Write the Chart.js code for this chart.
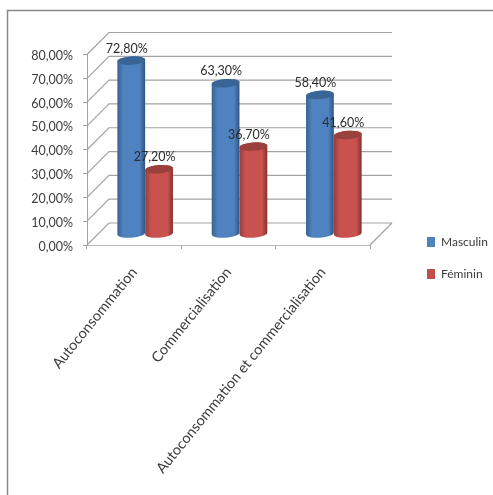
<!DOCTYPE html>
<html>
<head>
<meta charset="utf-8">
<title>Masculin / Féminin</title>
<script src="https://cdn.jsdelivr.net/npm/chart.js@4"></script>
<style>
  html, body { margin: 0; padding: 0; background: #fff; overflow: hidden; }
  canvas { display: block; }
</style>
</head>
<body>
<canvas id="myChart" width="493" height="495"></canvas>
<script>
var categories = ['Autoconsommation', 'Commercialisation', 'Autoconsommation et commercialisation'];
var masculin = [72.8, 63.3, 58.4];
var feminin = [27.2, 36.7, 41.6];
var yTickLabels = ['0,00%', '10,00%', '20,00%', '30,00%', '40,00%', '50,00%', '60,00%', '70,00%', '80,00%'];

var FONT = 'Lato, "Open Sans", sans-serif';
var DEPTH = 22;      // profondeur du plancher
var SHIFT = 11;      // les cylindres sont au milieu du plancher
var GRID = '#a3a3a3';

// tons du cylindre : bord gauche, centre, bord droit, dessus
var tones = [
  ['#38628f', '#4f82c0', '#2f5580', '#386595'],
  ['#93403d', '#c9524f', '#86302e', '#9a403d']
];

function pct(v){
  return v.toFixed(2).replace('.', ',') + '%';
}

// cadre gris, coupé par le bord de la page
var framePlugin = {
  id: 'frame',
  beforeDraw: function(chart){
    var ctx = chart.ctx;
    ctx.save();
    ctx.strokeStyle = '#8a8a8a';
    ctx.lineWidth = 1.5;
    ctx.strokeRect(7.5, 10.5, 600, 600);
    ctx.restore();
  }
};

// place la légende à droite sans toucher à la zone du graphique
var legendPlugin = {
  id: 'legendPlace',
  afterLayout: function(chart){
    var l = chart.legend;
    var w = l.right - l.left, h = l.bottom - l.top;
    l.left = 407;
    l.right = l.left + w;
    l.top = 216;
    l.bottom = l.top + h;
  }
};

// parois et plancher en perspective, à partir de l'échelle Y
var wallPlugin = {
  id: 'walls',
  beforeDatasetsDraw: function(chart){
    var ctx = chart.ctx, y = chart.scales.y, a = chart.chartArea;
    ctx.save();
    ctx.strokeStyle = GRID;
    ctx.lineWidth = 1.2;
    y.ticks.forEach(function(t){
      var py = y.getPixelForValue(t.value);
      ctx.beginPath();
      ctx.moveTo(a.left, py);
      ctx.lineTo(a.left + DEPTH, py - DEPTH);
      ctx.lineTo(a.right + DEPTH, py - DEPTH);
      ctx.stroke();
    });
    ctx.beginPath();
    ctx.moveTo(a.right, a.bottom);
    ctx.lineTo(a.right + DEPTH, a.bottom - DEPTH);
    ctx.stroke();
    ctx.restore();
  }
};

// remplace le rectangle de chaque barre par un cylindre
var cylinderPlugin = {
  id: 'cylinders',
  beforeDatasetDraw: function(chart, args){
    var ctx = chart.ctx, c = tones[args.index];
    args.meta.data.forEach(function(bar){
      var p = bar.getProps(['x', 'y', 'base', 'width'], true);
      var x = p.x + SHIFT, top = p.y - SHIFT, base = p.base - SHIFT;
      var rx = p.width / 2, ry = 4.2, tilt = -0.07;
      var g = ctx.createLinearGradient(x - rx, 0, x + rx, 0);
      g.addColorStop(0, c[0]);
      g.addColorStop(0.22, c[1]);
      g.addColorStop(0.8, c[1]);
      g.addColorStop(1, c[2]);
      ctx.save();
      ctx.fillStyle = g;
      ctx.beginPath();
      ctx.ellipse(x, base, rx, ry, tilt, 0, Math.PI);
      ctx.ellipse(x, top, rx, ry, tilt, Math.PI, Math.PI * 2);
      ctx.closePath();
      ctx.fill();
      ctx.fillStyle = c[3];
      ctx.beginPath();
      ctx.ellipse(x, top, rx, ry, tilt, 0, Math.PI * 2);
      ctx.fill();
      ctx.restore();
    });
    return false;
  },
  afterDatasetsDraw: function(chart){
    var ctx = chart.ctx;
    ctx.save();
    ctx.font = '12.5px ' + FONT;
    ctx.fillStyle = '#2b2b2b';
    ctx.textAlign = 'center';
    ctx.textBaseline = 'middle';
    chart.data.datasets.forEach(function(ds, i){
      chart.getDatasetMeta(i).data.forEach(function(bar, j){
        ctx.fillText(pct(ds.data[j]), bar.x + SHIFT - 4.5, bar.y - SHIFT - 12);
      });
    });
    ctx.restore();
  }
};

var ctx = document.getElementById('myChart');
var myChart = new Chart(ctx, {
  type: 'bar',
  data: {
    labels: categories,
    datasets: [
      { label: 'Masculin', data: masculin, backgroundColor: '#4f81bd' },
      { label: 'Féminin', data: feminin, backgroundColor: '#c0504d' }
    ]
  },
  options: {
    responsive: false,
    animation: false,
    events: [],
    layout: { padding: { top: 54.5, right: 123, left: 0, bottom: 0 } },
    datasets: { bar: { categoryPercentage: 0.59, barPercentage: 1 } },
    scales: {
      x: {
        grid: { drawOnChartArea: false, color: GRID, tickLength: 4 },
        border: { color: '#b8b8b8' },
        ticks: {
          minRotation: 51, maxRotation: 51, padding: 15,
          color: '#3c3c3c', font: { family: FONT, size: 14.5 }
        },
        afterFit: function(scale){ scale.height = 250; }
      },
      y: {
        min: 0, max: 80,
        grid: { drawOnChartArea: false, color: GRID, tickLength: 4 },
        border: { color: GRID },
        ticks: {
          stepSize: 10, padding: 10, labelOffset: 1.5,
          color: '#3c3c3c', font: { family: FONT, size: 12.5 },
          callback: function(v, i){ return yTickLabels[i]; }
        },
        afterFit: function(scale){ scale.width = 87; }
      }
    },
    plugins: {
      tooltip: { enabled: false },
      title: { display: false },
      legend: {
        position: 'chartArea',
        align: 'start',
        labels: {
          boxWidth: 8, boxHeight: 10, padding: 20,
          color: '#3c3c3c', font: { family: FONT, size: 12 }
        }
      }
    }
  },
  plugins: [framePlugin, legendPlugin, wallPlugin, cylinderPlugin]
});
</script>
</body>
</html>
